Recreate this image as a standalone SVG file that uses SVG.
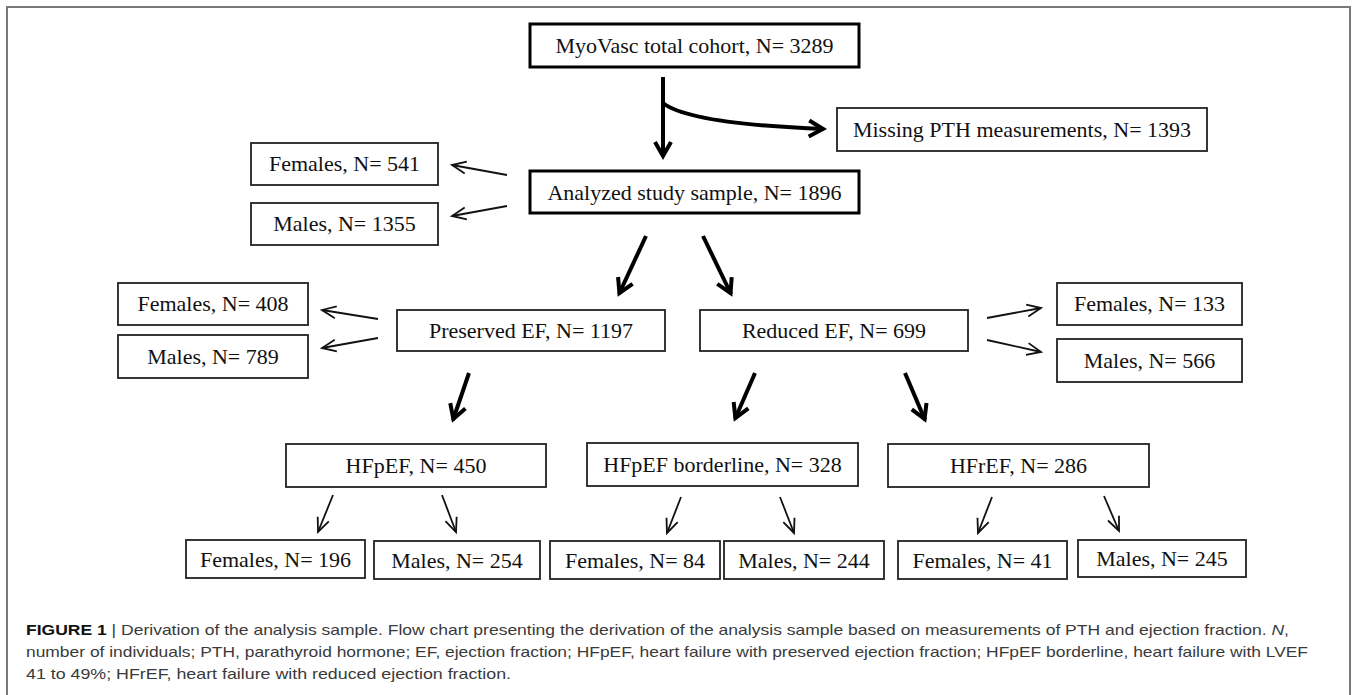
<svg xmlns="http://www.w3.org/2000/svg" width="1357" height="695" viewBox="0 0 1357 695">
<style>
.bg{fill:#fff}
.frame{fill:none;stroke:#7a7a7a;stroke-width:2}
.box{fill:#fff;stroke:#222;stroke-width:1.8}
.boxb{fill:#fff;stroke:#000;stroke-width:3}
.t{font-family:"Liberation Serif","Times New Roman",serif;font-size:22px;fill:#111;text-anchor:middle}
.thick{fill:none;stroke:#000;stroke-width:4;marker-end:url(#ah)}
.thin{fill:none;stroke:#111;stroke-width:1.8;marker-end:url(#as)}
.cap{font-family:"Liberation Sans",Arial,sans-serif;font-size:15px;fill:#3a3a3a}
</style>
<defs>
<marker id="ah" viewBox="-20 -12 24 24" refX="0" refY="0" markerWidth="24" markerHeight="24" markerUnits="userSpaceOnUse" orient="auto">
<path d="M-15,-8 L-1,0 L-15,8" fill="none" stroke="#000" stroke-width="4" stroke-linejoin="miter"/>
</marker>
<marker id="as" viewBox="-18 -10 22 20" refX="0" refY="0" markerWidth="22" markerHeight="20" markerUnits="userSpaceOnUse" orient="auto">
<path d="M-14,-6 L0,0 L-14,6" fill="none" stroke="#111" stroke-width="1.8"/>
</marker>
</defs>
<rect class="bg" x="0" y="0" width="1357" height="695"/>
<rect class="frame" x="7" y="7" width="1343" height="700"/>

<g id="connectors">
<line class="thick" x1="663" y1="77" x2="663" y2="157"/>
<path class="thick" d="M663,103 Q690,124 824,129"/>
<line class="thick" x1="646" y1="236" x2="619" y2="294"/>
<line class="thick" x1="703" y1="236" x2="731" y2="294"/>
<line class="thick" x1="469" y1="373" x2="453" y2="420"/>
<line class="thick" x1="755" y1="373" x2="735" y2="419"/>
<line class="thick" x1="905" y1="373" x2="925" y2="420"/>
<line class="thin" x1="507" y1="175" x2="452" y2="165"/>
<line class="thin" x1="507" y1="206" x2="452" y2="216"/>
<line class="thin" x1="378" y1="319" x2="322" y2="310"/>
<line class="thin" x1="378" y1="338" x2="322" y2="348"/>
<line class="thin" x1="987" y1="318" x2="1041" y2="308"/>
<line class="thin" x1="987" y1="340" x2="1041" y2="352"/>
<line class="thin" x1="333" y1="495" x2="318" y2="532"/>
<line class="thin" x1="442" y1="495" x2="456" y2="532"/>
<line class="thin" x1="681" y1="497" x2="667" y2="533"/>
<line class="thin" x1="780" y1="497" x2="794" y2="533"/>
<line class="thin" x1="992" y1="497" x2="978" y2="533"/>
<line class="thin" x1="1104" y1="496" x2="1119" y2="531"/>
</g>

<g id="total"><rect class="boxb" x="530" y="24" width="329" height="43"/><text class="t" x="694.5" y="53">MyoVasc total cohort, N= 3289</text></g>
<g id="missing"><rect class="box" x="837" y="108" width="370" height="43"/><text class="t" x="1022" y="137">Missing PTH measurements, N= 1393</text></g>
<g id="analyzed"><rect class="boxb" x="530" y="171" width="329" height="42"/><text class="t" x="694.5" y="200">Analyzed study sample, N= 1896</text></g>
<g id="f541"><rect class="box" x="251" y="143" width="187" height="42"/><text class="t" x="344.5" y="171">Females, N= 541</text></g>
<g id="m1355"><rect class="box" x="251" y="203" width="187" height="42"/><text class="t" x="344.5" y="231">Males, N= 1355</text></g>
<g id="f408"><rect class="box" x="118" y="283" width="190" height="42"/><text class="t" x="213" y="311">Females, N= 408</text></g>
<g id="m789"><rect class="box" x="118" y="335" width="190" height="43"/><text class="t" x="213" y="364">Males, N= 789</text></g>
<g id="preserved"><rect class="box" x="397" y="310" width="268" height="41"/><text class="t" x="531" y="338">Preserved EF, N= 1197</text></g>
<g id="reduced"><rect class="box" x="700" y="310" width="268" height="41"/><text class="t" x="834" y="338">Reduced EF, N= 699</text></g>
<g id="f133"><rect class="box" x="1057" y="283" width="185" height="42"/><text class="t" x="1149.5" y="311">Females, N= 133</text></g>
<g id="m566"><rect class="box" x="1057" y="339" width="185" height="43"/><text class="t" x="1149.5" y="368">Males, N= 566</text></g>
<g id="hfpef"><rect class="box" x="286" y="444" width="260" height="43"/><text class="t" x="416" y="473">HFpEF, N= 450</text></g>
<g id="borderline"><rect class="box" x="587" y="443" width="271" height="43"/><text class="t" x="722.5" y="472">HFpEF borderline, N= 328</text></g>
<g id="hfref"><rect class="box" x="888" y="444" width="261" height="43"/><text class="t" x="1018.5" y="473">HFrEF, N= 286</text></g>
<g id="f196"><rect class="box" x="186" y="540" width="179" height="38"/><text class="t" x="275.5" y="567">Females, N= 196</text></g>
<g id="m254"><rect class="box" x="374" y="541" width="166" height="38"/><text class="t" x="457" y="568">Males, N= 254</text></g>
<g id="f84"><rect class="box" x="550" y="541" width="170" height="38"/><text class="t" x="635" y="568">Females, N= 84</text></g>
<g id="m244"><rect class="box" x="724" y="541" width="160" height="38"/><text class="t" x="804" y="568">Males, N= 244</text></g>
<g id="f41"><rect class="box" x="898" y="541" width="169" height="38"/><text class="t" x="982.5" y="568">Females, N= 41</text></g>
<g id="m245"><rect class="box" x="1078" y="540" width="168" height="37"/><text class="t" x="1162" y="566">Males, N= 245</text></g>

<g id="caption">
<text class="cap" x="26" y="635" textLength="1263" lengthAdjust="spacingAndGlyphs"><tspan font-weight="bold" fill="#111">FIGURE 1</tspan> | Derivation of the analysis sample. Flow chart presenting the derivation of the analysis sample based on measurements of PTH and ejection fraction. <tspan font-style="italic">N</tspan>,</text>
<text class="cap" x="26" y="657" textLength="1282" lengthAdjust="spacingAndGlyphs">number of individuals; PTH, parathyroid hormone; EF, ejection fraction; HFpEF, heart failure with preserved ejection fraction; HFpEF borderline, heart failure with LVEF</text>
<text class="cap" x="26" y="679" textLength="485" lengthAdjust="spacingAndGlyphs">41 to 49%; HFrEF, heart failure with reduced ejection fraction.</text>
</g>
</svg>
